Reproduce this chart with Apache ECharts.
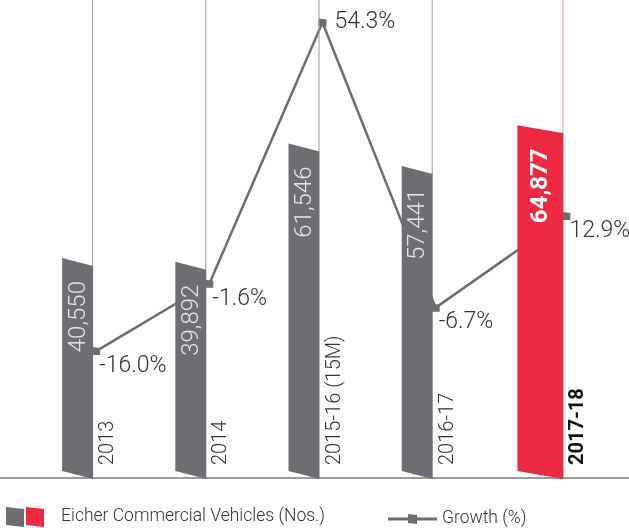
<!DOCTYPE html>
<html>
<head>
<meta charset="utf-8">
<script src="https://cdn.jsdelivr.net/npm/echarts@6/dist/echarts.min.js"></script>
<style>
  html, body { margin: 0; padding: 0; background: #fff; }
  #chart { width: 629px; height: 528px; }
</style>
</head>
<body>
<div id="chart"></div>
<script>
const categories = ['2013', '2014', '2015-16 (15M)', '2016-17', '2017-18']
const vehicles = [40550, 39892, 61546, 57441, 64877]
const growth = [-16.0, -1.6, 54.3, -6.7, 12.9]
const legendNames = ['Eicher Commercial Vehicles (Nos.)', 'Growth (%)']

const GRAY = '#6d6e71'
const RED = '#ed2941'
const FONT = 'Roboto, "Noto Sans", sans-serif'
const Y_MIN = 1500
const last = vehicles.length - 1

// right-hand bar is wider and shifted a bit
function barEdges(i, cx) {
    return i === last ? [cx - 13, cx + 33] : [cx - 15.5, cx + 15.5]
}

const barIcon = 'image://data:image/svg+xml;utf8,' + encodeURIComponent(
    '<svg xmlns="http://www.w3.org/2000/svg" width="50" height="20" viewBox="0 0 50 20">' +
    '<polygon points="0,0 18,2 18,20 0,18" fill="' + GRAY + '"/>' +
    '<polygon points="20,0 38,2 38,20 20,18" fill="' + RED + '"/></svg>')

let chart = echarts.init(document.getElementById('chart'))
chart.setOption({
    animation: false,
    grid: [
        { left: 21, right: 42, top: 0, bottom: 53 },
        { left: 0, right: 0, top: 0, bottom: 50 }
    ],
    xAxis: [
        { type: 'category', data: categories, gridIndex: 0, show: false },
        {
            type: 'value', gridIndex: 1,
            axisLine: { show: true, onZero: false, lineStyle: { color: '#9b9b9b', width: 2 } },
            axisTick: { show: false },
            axisLabel: { show: false },
            splitLine: { show: false }
        }
    ],
    yAxis: [
        { type: 'value', min: Y_MIN, max: 88600, show: false },
        { type: 'value', min: -42.5, max: 59.1, show: false },
        { type: 'value', gridIndex: 1, show: false }
    ],
    legend: [
        {
            left: 6, top: 507, padding: 0, itemWidth: 50, itemHeight: 20,
            textStyle: { color: '#333', fontSize: 17.5, fontFamily: FONT, fontWeight: 300 },
            data: [{ name: legendNames[0], icon: barIcon }]
        },
        {
            left: 388, top: 510, padding: 0, itemWidth: 49, itemHeight: 10,
            textStyle: { color: '#333', fontSize: 17.5, fontFamily: FONT, fontWeight: 300 },
            data: [{
                name: legendNames[1],
                icon: 'path://M0,3.5 L20,3.5 L20,0 L29,1 L29,3.5 L49,3.5 L49,6.5 L29,6.5 L29,10 L20,9 L20,6.5 L0,6.5 Z',
                itemStyle: { color: GRAY }
            }]
        }
    ],
    series: [
        {
            name: legendNames[1],
            type: 'custom',
            xAxisIndex: 0,
            yAxisIndex: 1,
            z: 1,
            itemStyle: { color: GRAY },
            encode: { x: 0, y: 1 },
            data: growth.map((g, i) => [i, g]),
            renderItem: function (params, api) {
                const i = params.dataIndex
                const p = api.coord([i, api.value(1)])
                const px = barEdges(i, p[0])[1] + 3
                const py = p[1]
                const children = []
                if (i > 0) {
                    const q = api.coord([i - 1, growth[i - 1]])
                    const qx = barEdges(i - 1, q[0])[1] + 3
                    children.push({
                        type: 'line',
                        shape: { x1: qx, y1: q[1], x2: px, y2: py },
                        style: { stroke: GRAY, lineWidth: 2.5 }
                    })
                }
                children.push({
                    type: 'polygon',
                    shape: { points: [[px - 4, py - 4], [px + 4, py - 3], [px + 4, py + 4], [px - 4, py + 4]] },
                    style: { fill: GRAY }
                })
                const isPeak = growth[i] === Math.max(...growth)
                children.push({
                    type: 'text',
                    x: isPeak ? px + 12 : px + 3,
                    y: isPeak ? py : py + 15,
                    style: {
                        text: growth[i].toFixed(1) + '%',
                        fill: '#333',
                        font: '300 23px ' + FONT,
                        align: 'left',
                        verticalAlign: 'middle'
                    }
                })
                return { type: 'group', children: children }
            }
        },
        {
            name: legendNames[0],
            type: 'custom',
            xAxisIndex: 0,
            yAxisIndex: 0,
            z: 2,
            itemStyle: { color: GRAY },
            encode: { x: 0, y: 1 },
            data: vehicles.map((v, i) => [i, v]),
            renderItem: function (params, api) {
                const i = params.dataIndex
                const top = api.coord([i, api.value(1)])
                const base = api.coord([i, Y_MIN])
                const [l, r] = barEdges(i, top[0])
                const s = 4
                const hi = i === last
                return {
                    type: 'group',
                    children: [
                        {
                            type: 'line',
                            shape: { x1: r - 0.5, y1: params.coordSys.y, x2: r - 0.5, y2: top[1] + s },
                            style: { stroke: hi ? '#f29aa5' : '#9a9a9a', lineWidth: 1 }
                        },
                        {
                            type: 'polygon',
                            shape: { points: [[l, top[1] - s], [r, top[1] + s], [r, base[1] + s], [l, base[1] - s]] },
                            style: { fill: hi ? RED : GRAY }
                        },
                        {
                            type: 'text',
                            x: (l + r) / 2 + 1,
                            y: top[1] + 19,
                            rotation: Math.PI / 2,
                            style: {
                                text: vehicles[i].toLocaleString('en-US'),
                                fill: hi ? '#fff' : '#e4e4e4',
                                font: (hi ? 'bold ' : '300 ') + '24px ' + FONT,
                                align: 'right',
                                verticalAlign: 'middle'
                            }
                        },
                        {
                            type: 'text',
                            x: r + 15,
                            y: base[1] - 10,
                            rotation: Math.PI / 2,
                            style: {
                                text: categories[i],
                                fill: hi ? '#111' : '#333',
                                font: (hi ? 'bold ' : '300 ') + '20px ' + FONT,
                                align: 'left',
                                verticalAlign: 'middle'
                            }
                        }
                    ]
                }
            }
        }
    ]
})
</script>
</body>
</html>
